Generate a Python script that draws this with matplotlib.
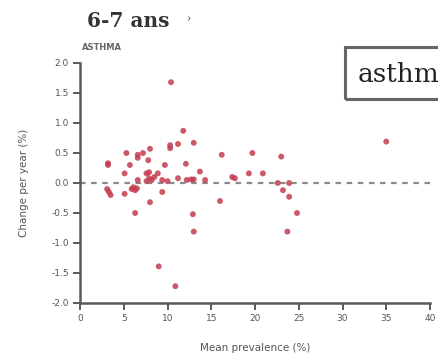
import matplotlib.pyplot as plt
from matplotlib.patches import Rectangle

# ------------------------------------------------------------
# Data (mean prevalence %, change per year %)
# ------------------------------------------------------------

prevalence = [
    3.2, 3.2, 3.1, 3.3, 3.5,
    5.1, 5.1, 5.3, 5.7, 5.9, 6.1, 6.3, 6.5, 6.3,
    6.6, 6.6, 6.6, 7.2, 7.6, 7.8, 7.9, 8.0, 8.0,
    7.6, 7.9, 8.2, 8.5, 8.9, 9.0, 9.4, 9.4, 9.7, 10.0,
    10.3, 10.3, 10.4, 10.9, 11.2, 11.2, 11.8, 12.1, 12.2, 12.7,
    13.0, 12.9, 13.0, 13.0, 13.7, 14.3,
    16.0, 16.2, 17.4, 17.7, 19.3, 19.7, 20.9,
    22.6, 23.0, 23.2, 23.7, 23.9, 23.9, 24.8, 35.0,
]
change = [
    0.33, 0.30, -0.10, -0.15, -0.20,
    0.16, -0.18, 0.50, 0.30, -0.10, -0.07, -0.12, -0.09, -0.50,
    0.47, 0.42, 0.05, 0.50, 0.16, 0.38, 0.18, 0.57, -0.32,
    0.03, 0.08, 0.05, 0.10, 0.16, -1.39, 0.05, -0.15, 0.30, 0.03,
    0.63, 0.58, 1.68, -1.72, 0.65, 0.08, 0.87, 0.32, 0.05, 0.06,
    0.67, -0.52, -0.81, 0.06, 0.19, 0.05,
    -0.30, 0.47, 0.10, 0.08, 0.16, 0.50, 0.16,
    0.00, 0.44, -0.12, -0.81, 0.00, -0.23, -0.50, 0.69,
]

x_ticks = [0, 5, 10, 15, 20, 25, 30, 35, 40]
y_ticks = [2.0, 1.5, 1.0, 0.5, 0.0, -0.5, -1.0, -1.5, -2.0]

AXIS_GREY = "#5a5a5a"
TEXT_GREY = "#555555"
POINT_RED = "#c23c4f"


def main():
    fig = plt.figure(figsize=(4.38, 3.55), dpi=100)
    ax = fig.add_axes([80 / 438, 52 / 355, 350 / 438, 240 / 355])

    ax.axhline(0, color="#8a8a8a", lw=1.6, ls=(0, (2.5, 2.5)), zorder=1)
    ax.scatter(prevalence, change, s=18, color=POINT_RED, alpha=0.85,
               edgecolors="none", zorder=2)

    ax.set_xlim(0, 40)
    ax.set_ylim(-2, 2)
    ax.set_xticks(x_ticks)
    ax.set_yticks(y_ticks)
    ax.set_xticklabels([str(t) for t in x_ticks])
    ax.set_yticklabels([f"{t:.1f}" for t in y_ticks])

    for side in ["top", "right"]:
        ax.spines[side].set_visible(False)
    for side in ["left", "bottom"]:
        ax.spines[side].set_color(AXIS_GREY)
        ax.spines[side].set_linewidth(1.8)

    ax.tick_params(direction="out", length=5, width=1.4, color=AXIS_GREY,
                   labelsize=6.5, labelcolor=TEXT_GREY, pad=3)

    ax.set_xlabel("Mean prevalence (%)", fontsize=7.5, color=TEXT_GREY,
                  labelpad=14)
    ax.set_ylabel("Change per year (%)", fontsize=7.5, color=TEXT_GREY,
                  labelpad=16)

    # headings above the panel
    fig.text(87 / 438, 1 - 21 / 355, "6-7 ans", fontsize=14.5, fontweight="bold",
             family="DejaVu Serif", color="#333333", va="center")
    fig.text(186 / 438, 1 - 18 / 355, "›", fontsize=9,
             family="Liberation Serif", color=TEXT_GREY, va="center")
    fig.text(82 / 438, 1 - 47 / 355, "ASTHMA", fontsize=6, fontweight="bold",
             color="#666666", va="center")

    # boxed label, cut by the right edge as in the source
    fig.patches.append(Rectangle((345 / 438, 1 - 99 / 355), 0.4, 52 / 355,
                                 transform=fig.transFigure, fill=False,
                                 edgecolor="#666666", lw=2.2))
    fig.text(358 / 438, 1 - 74 / 355, "asthme", fontsize=19,
             family="DejaVu Serif", color="#222222", va="center")

    fig.savefig("out.png", dpi=100)
    plt.close(fig)


if __name__ == "__main__":
    main()
